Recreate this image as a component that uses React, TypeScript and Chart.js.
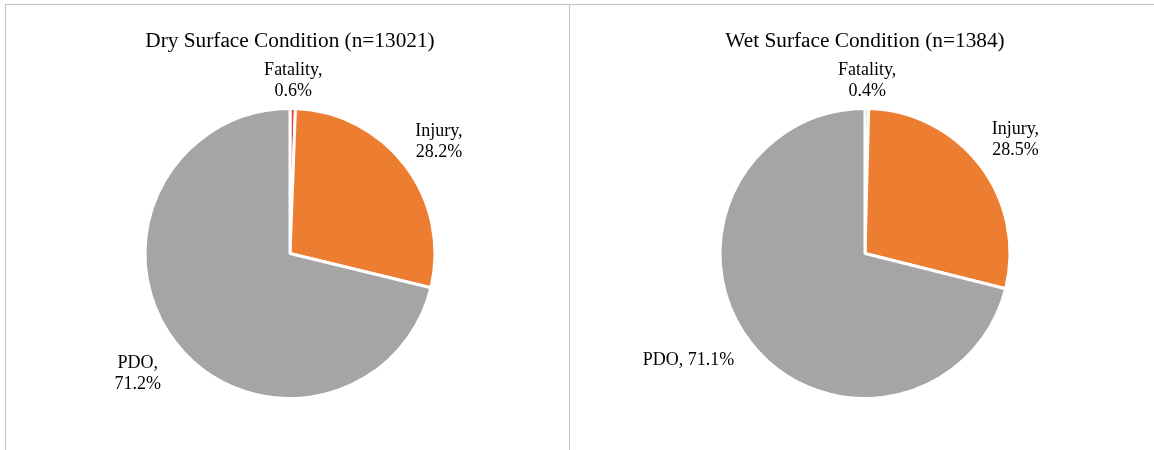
import React, { useEffect, useRef } from "react";
import { Chart, registerables } from "chart.js";

Chart.register(...registerables);

// ---- data ----
const categories = ["Fatality", "Injury", "PDO"];
const dryValues = [0.6, 28.2, 71.2];
const wetValues = [0.4, 28.5, 71.1];
const dryTitle = "Dry Surface Condition (n=13021)";
const wetTitle = "Wet Surface Condition (n=1384)";
// whether the data label is split onto two lines
const dryLabelBreak = [true, true, true];
const wetLabelBreak = [true, true, false];

// ---- styles ----
const sliceColors = ["#E0453A", "#ED7D31", "#A5A5A5"];
const labelDistanceDry = [1.2, 1.287, 1.336];
const labelDistanceWet = [1.2, 1.303, 1.42];
const labelAngleShiftDry = [0, 0, 0];
const labelAngleShiftWet = [0, 0, 7];
const FONT = "'Liberation Serif', 'Times New Roman', serif";

type PanelProps = {
  title: string;
  values: number[];
  breaks: boolean[];
  dist: number[];
  shift: number[];
  width: number;
  height: number;
  padLeft: number;
  padRight: number;
};

function PiePanel(p: PanelProps) {
  const ref = useRef<HTMLCanvasElement | null>(null);
  useEffect(() => {
    const canvas = ref.current;
    if (!canvas) return;
    const labelPlugin = {
      id: "pieLabels",
      afterDraw(chart: any) {
        const ctx = chart.ctx as CanvasRenderingContext2D;
        const meta = chart.getDatasetMeta(0);
        const area = chart.chartArea;
        ctx.save();
        ctx.fillStyle = "#000";
        ctx.textAlign = "center";
        ctx.textBaseline = "middle";
        ctx.font = `21.3px ${FONT}`;
        const cx = (area.left + area.right) / 2;
        ctx.fillText(p.title, cx, 36);
        ctx.font = `18px ${FONT}`;
        meta.data.forEach((arc: any, i: number) => {
          const mid =
            (arc.startAngle + arc.endAngle) / 2 + (p.shift[i] * Math.PI) / 180;
          const d = arc.outerRadius * p.dist[i];
          const x = arc.x + Math.cos(mid) * d;
          const y = arc.y + Math.sin(mid) * d + 1;
          const val = p.values[i].toFixed(1) + "%";
          const name = categories[i] + ",";
          if (p.breaks[i]) {
            ctx.fillText(name, x, y - 10.5);
            ctx.fillText(val, x, y + 10.5);
          } else {
            ctx.fillText(name + " " + val, x, y);
          }
        });
        ctx.restore();
      },
    };
    const chart = new Chart(canvas, {
      type: "pie",
      data: {
        labels: categories,
        datasets: [
          {
            data: p.values,
            backgroundColor: sliceColors,
            borderColor: "#FFFFFF",
            borderWidth: 3,
          },
        ],
      },
      options: {
        responsive: false,
        animation: false,
        layout: {
          padding: { top: 102, bottom: 50, left: p.padLeft, right: p.padRight },
        },
        plugins: {
          legend: { display: false },
          tooltip: { enabled: false },
          title: { display: false },
        },
      },
      plugins: [labelPlugin],
    });
    return () => chart.destroy();
  }, []);
  return (
    <canvas
      ref={ref}
      width={p.width}
      height={p.height}
      style={{ display: "block", width: p.width, height: p.height }}
    />
  );
}

export default function App() {
  const line = "#C4C4C4";
  return (
    <div
      style={{
        position: "fixed",
        left: 0,
        top: 0,
        width: 1154,
        height: 450,
        background: "#FFFFFF",
        overflow: "hidden",
      }}
    >
      <div
        style={{
          position: "absolute",
          left: 5,
          top: 4,
          width: 563,
          height: 445,
          borderLeft: `1px solid ${line}`,
          borderTop: `1px solid ${line}`,
        }}
      >
        <PiePanel
          title={dryTitle}
          values={dryValues}
          breaks={dryLabelBreak}
          dist={labelDistanceDry}
          shift={labelAngleShiftDry}
          width={563}
          height={445}
          padLeft={5}
          padRight={0}
        />
      </div>
      <div
        style={{
          position: "absolute",
          left: 569,
          top: 4,
          width: 585,
          height: 445,
          borderLeft: `1px solid ${line}`,
          borderTop: `1px solid ${line}`,
        }}
      >
        <PiePanel
          title={wetTitle}
          values={wetValues}
          breaks={wetLabelBreak}
          dist={labelDistanceWet}
          shift={labelAngleShiftWet}
          width={584}
          height={445}
          padLeft={6}
          padRight={0}
        />
      </div>
    </div>
  );
}
